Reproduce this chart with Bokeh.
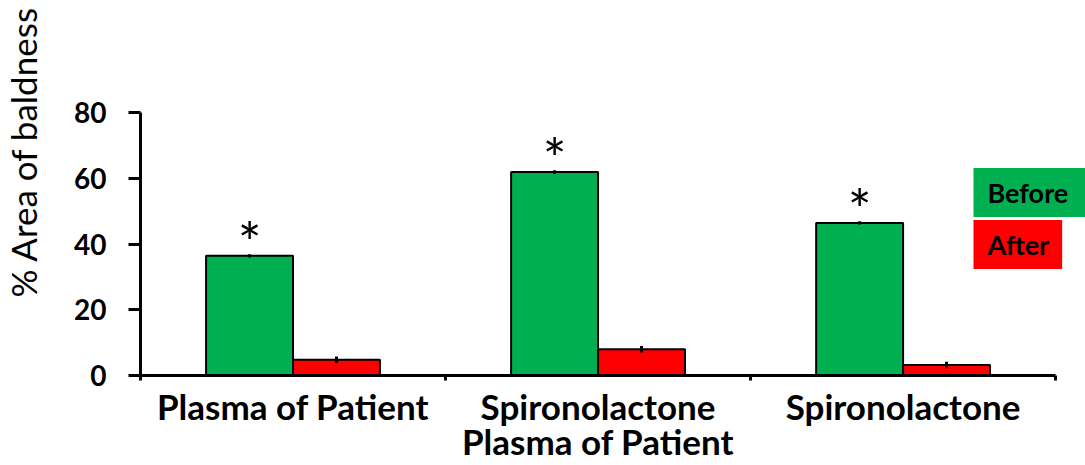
from bokeh.plotting import figure
from bokeh.models import ColumnDataSource, Range1d, FixedTicker, Label, Title
from bokeh.transform import dodge
from bokeh.core.properties import value
from bokeh.embed import file_html
from bokeh.resources import INLINE

categories = ["Plasma of Patient", "Spironolactone\nPlasma of Patient", "Spironolactone"]
before = [36.4, 61.9, 46.4]
before_err = [0.5, 0.5, 0.5]
after = [4.8, 8.0, 3.2]
after_err = [1.0, 1.0, 1.0]
y_ticks = [0, 20, 40, 60, 80]
y_title = "% Area of baldness"
legend_names = ["Before", "After"]
colors = ["#00B050", "#FF0000"]

xs = list(range(len(categories)))
src = ColumnDataSource(dict(
    x=xs, before=before, after=after,
    b_lo=[v - e for v, e in zip(before, before_err)],
    b_hi=[v + e for v, e in zip(before, before_err)],
    a_lo=[v - e for v, e in zip(after, after_err)],
    a_hi=[v + e for v, e in zip(after, after_err)],
    star=["*"] * len(categories),
    star_y=[v + 4.5 for v in before],
))

FONT = "Lato"
# frame spans to the right canvas edge so the legend boxes can sit inside it
p = figure(width=1085, height=465, output_backend="svg", toolbar_location=None,
           x_range=Range1d(-0.5, 2.598), y_range=Range1d(0, 80),
           min_border_left=140, min_border_right=0, min_border_top=112, min_border_bottom=89)
p.outline_line_color = None
p.grid.visible = False
p.background_fill_color = "white"

bw = 0.285
off = bw / 2
p.vbar(x=dodge("x", -off), top="before", width=bw, source=src,
       fill_color=colors[0], line_color="black", line_width=2)
p.vbar(x=dodge("x", off), top="after", width=bw, source=src,
       fill_color=colors[1], line_color="black", line_width=2)
p.segment(x0=dodge("x", -off), x1=dodge("x", -off), y0="b_lo", y1="b_hi", source=src,
          line_color="black", line_width=3)
p.segment(x0=dodge("x", off), x1=dodge("x", off), y0="a_lo", y1="a_hi", source=src,
          line_color="black", line_width=3)
p.text(x=dodge("x", -off), y="star_y", text="star", source=src,
       text_font=value(FONT), text_font_size="56px", text_align="center",
       text_baseline="alphabetic", text_color="black")

# y axis
ya = p.yaxis[0]
ya.ticker = FixedTicker(ticks=y_ticks)
ya.axis_line_width = 3
ya.major_tick_line_width = 3
ya.major_tick_out = 12
ya.major_tick_in = 0
ya.minor_tick_line_color = None
ya.major_label_text_font = FONT
ya.major_label_text_font_style = "bold"
ya.major_label_text_font_size = "28px"
ya.major_label_text_color = "black"
ya.major_label_standoff = 22
ya.axis_line_color = "black"

# x axis
xa = p.xaxis[0]
xa.bounds = (-0.5, 2.5)
xa.ticker = FixedTicker(ticks=xs, minor_ticks=[-0.5, 0.5, 1.5, 2.5])
xa.major_label_overrides = {i: c for i, c in zip(xs, categories)}
xa.axis_line_width = 3
xa.major_tick_out = 0
xa.major_tick_in = 0
xa.minor_tick_out = 5
xa.minor_tick_in = 0
xa.minor_tick_line_width = 3
xa.minor_tick_line_color = "black"
xa.major_label_text_font = FONT
xa.major_label_text_font_style = "bold"
xa.major_label_text_font_size = "35px"
xa.major_label_text_color = "black"
xa.major_label_text_line_height = 0.85
xa.major_label_standoff = 4

# spacer between the y axis and its title, then the title itself
p.add_layout(Title(text=" ", standoff=22, text_font_size="1px"), "left")
p.add_layout(Title(text=y_title, align="left", offset=78, standoff=2, vertical_align="top",
                   text_font=FONT, text_font_size="35px", text_font_style="normal",
                   text_color="black"), "left")

# legend boxes (screen units are relative to the frame)
for name, col, yy, pr in zip(legend_names, colors, [183, 131], [18, 13]):
    p.add_layout(Label(x=833, y=yy, x_units="screen", y_units="screen", text=name,
                       text_align="left", text_baseline="middle",
                       text_font=FONT, text_font_style="bold", text_font_size="27px",
                       text_color="black", background_fill_color=col,
                       padding=dict(left=14, right=pr, top=8, bottom=8)))

open("out.html", "w").write(file_html(p, INLINE))
